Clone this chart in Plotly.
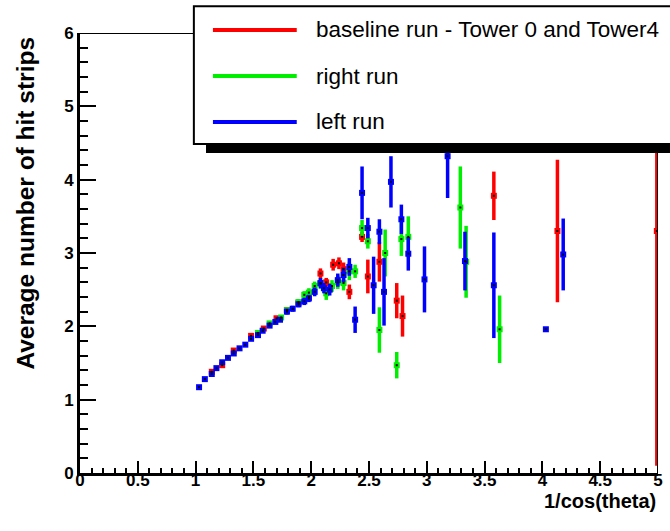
import plotly.graph_objects as go

# ---------------- data ----------------
series_names = ["baseline run - Tower 0 and Tower4", "right run", "left run"]
series_colors = ["#ff0000", "#00ee00", "#0000ff"]

# baseline run (red)
red_x = [1.14, 1.23, 1.33, 1.48, 1.59, 1.70, 1.79, 1.89, 1.98, 2.08, 2.13, 2.19, 2.24, 2.28, 2.33,
         2.44, 2.49, 2.59, 2.74, 2.79, 3.58, 4.13, 4.99]
red_y = [1.38, 1.47, 1.67, 1.87, 1.97, 2.11, 2.22, 2.32, 2.40, 2.72, 2.60, 2.84, 2.86, 2.78, 2.47,
         3.22, 2.68, 2.88, 2.35, 2.14, 3.78, 3.30, 3.30]
red_err = [0.02, 0.02, 0.02, 0.02, 0.02, 0.03, 0.03, 0.03, 0.04, 0.07, 0.06, 0.08, 0.08, 0.09, 0.10,
           0.07, 0.23, 0.27, 0.24, 0.28, 0.33, 0.97, 3.20]

# right run (green)
green_x = [1.54, 1.64, 1.74, 1.79, 1.89, 1.94, 1.98, 2.03, 2.08, 2.13, 2.18, 2.23, 2.28, 2.33,
           2.38, 2.44, 2.49, 2.59, 2.64, 2.74, 2.78, 2.84, 3.29, 3.34, 3.63]
green_y = [1.91, 2.04, 2.12, 2.22, 2.33, 2.43, 2.46, 2.55, 2.58, 2.45, 2.55, 2.60, 2.59, 2.75,
           2.75, 3.34, 3.16, 1.95, 3.00, 1.47, 3.19, 3.22, 3.62, 2.88, 1.96]
green_err = [0.02, 0.02, 0.03, 0.03, 0.04, 0.05, 0.06, 0.06, 0.07, 0.09, 0.08, 0.09, 0.10, 0.12,
             0.09, 0.11, 0.10, 0.31, 0.32, 0.18, 0.23, 0.28, 0.56, 0.49, 0.46]

# left run (blue)
blue_x = [1.03, 1.08, 1.14, 1.18, 1.23, 1.28, 1.33, 1.38, 1.43, 1.48, 1.54, 1.58, 1.64, 1.69,
          1.73, 1.79, 1.84, 1.89, 1.94, 1.98, 2.03, 2.08, 2.11, 2.16, 2.23, 2.28, 2.33,
          2.38, 2.44, 2.49, 2.54, 2.59, 2.63, 2.69, 2.78, 2.84, 2.98, 3.18, 3.33, 3.58, 4.03, 4.18]
blue_y = [1.17, 1.28, 1.35, 1.43, 1.51, 1.57, 1.63, 1.70, 1.75, 1.83, 1.88, 1.94, 2.01, 2.06,
          2.09, 2.20, 2.24, 2.30, 2.34, 2.38, 2.47, 2.59, 2.52, 2.50, 2.63, 2.70, 2.81,
          2.09, 3.82, 3.34, 2.56, 3.29, 2.47, 3.97, 3.46, 2.99, 2.64, 4.32, 2.89, 2.56, 1.96, 2.98]
blue_err = [0.02, 0.02, 0.02, 0.02, 0.02, 0.02, 0.02, 0.02, 0.02, 0.03, 0.03, 0.03, 0.03, 0.03,
            0.03, 0.04, 0.04, 0.04, 0.05, 0.05, 0.06, 0.07, 0.07, 0.08, 0.09, 0.10, 0.12,
            0.18, 0.36, 0.14, 0.39, 0.17, 0.46, 0.35, 0.20, 0.23, 0.45, 0.57, 0.40, 0.72, 0.0, 0.49]

x_tickvals = [0, 0.5, 1, 1.5, 2, 2.5, 3, 3.5, 4, 4.5, 5]
x_ticktext = ["0", "0.5", "1", "1.5", "2", "2.5", "3", "3.5", "4", "4.5", "5"]
y_tickvals = [0, 1, 2, 3, 4, 5, 6]
y_ticktext = ["0", "1", "2", "3", "4", "5", "6"]

x_title = "1/cos(theta)"
y_title = "Average number of hit strips"

# ---------------- figure ----------------
FONT = "Liberation Sans, Arial, Helvetica, sans-serif"
fig = go.Figure()

all_series = [(red_x, red_y, red_err), (green_x, green_y, green_err), (blue_x, blue_y, blue_err)]
for (xs, ys, es), name, col in zip(all_series, series_names, series_colors):
    fig.add_trace(go.Scatter(
        x=xs, y=ys, mode="markers", name=name, showlegend=False,
        marker=dict(symbol="square", size=6, color=col, line=dict(width=0)),
        error_y=dict(type="data", array=es, visible=True, color=col, thickness=3.5, width=0),
    ))

# small black centre dots
dot_x, dot_y = [], []
for xs, ys, es in all_series:
    dot_x += xs
    dot_y += ys
fig.add_trace(go.Scatter(x=dot_x, y=dot_y, mode="markers", showlegend=False,
                         marker=dict(symbol="square", size=2, color="black")))

axis_common = dict(
    showgrid=False, zeroline=False, showline=True, linecolor="black", linewidth=3,
    ticks="inside", tickcolor="black", tickwidth=2, automargin=False,
    tickfont=dict(family=FONT, size=17, color="black", weight="bold"),
)
fig.update_xaxes(range=[0, 5], tickvals=x_tickvals, ticktext=x_ticktext, ticklen=12,
                 ticklabelstandoff=-10,
                 minor=dict(dtick=0.1, ticks="inside", ticklen=5, tickwidth=2, tickcolor="black",
                            showgrid=False),
                 **axis_common)
fig.update_yaxes(range=[0, 6], tickvals=y_tickvals, ticktext=y_ticktext, ticklen=16,
                 minor=dict(dtick=0.2, ticks="inside", ticklen=8, tickwidth=2, tickcolor="black",
                            showgrid=False),
                 **axis_common)

shapes = [
    # frame top and right
    dict(type="line", xref="x", yref="y", x0=0, x1=5, y0=6, y1=6, line=dict(color="black", width=2)),
    dict(type="line", xref="x", yref="y", x0=5, x1=5, y0=0, y1=6, line=dict(color="black", width=2)),
    # legend shadow and box
    dict(type="rect", xref="paper", yref="paper", x0=0.218, x1=1.04, y0=0.727, y1=0.75,
         fillcolor="black", line=dict(width=0)),
    dict(type="rect", xref="paper", yref="paper", x0=0.197, x1=1.04, y0=0.748, y1=1.061,
         fillcolor="white", line=dict(color="black", width=2)),
]
legend_y = [1.007, 0.902, 0.798]
annotations = []
for name, col, ly in zip(series_names, series_colors, legend_y):
    shapes.append(dict(type="line", xref="paper", yref="paper", x0=0.230, x1=0.375, y0=ly, y1=ly,
                       line=dict(color=col, width=4)))
    annotations.append(dict(text=name, xref="paper", yref="paper", x=0.405, y=ly,
                            xanchor="left", yanchor="middle", showarrow=False,
                            font=dict(family=FONT, size=22.5, color="black")))

annotations.append(dict(text=x_title, xref="paper", yref="paper", x=1.0, y=-0.064,
                        xanchor="right", yanchor="middle", showarrow=False,
                        font=dict(family=FONT, size=20, color="black", weight="bold")))
annotations.append(dict(text=y_title, xref="paper", yref="paper", x=-0.095, y=0.6125,
                        xanchor="center", yanchor="middle", showarrow=False, textangle=-90,
                        font=dict(family=FONT, size=24.5, color="black", weight="bold")))

fig.update_layout(
    width=670, height=531,
    margin=dict(l=80, r=12, t=33, b=58),
    paper_bgcolor="white", plot_bgcolor="white",
    shapes=shapes, annotations=annotations,
    showlegend=False,
)

fig.write_html("out.html")
